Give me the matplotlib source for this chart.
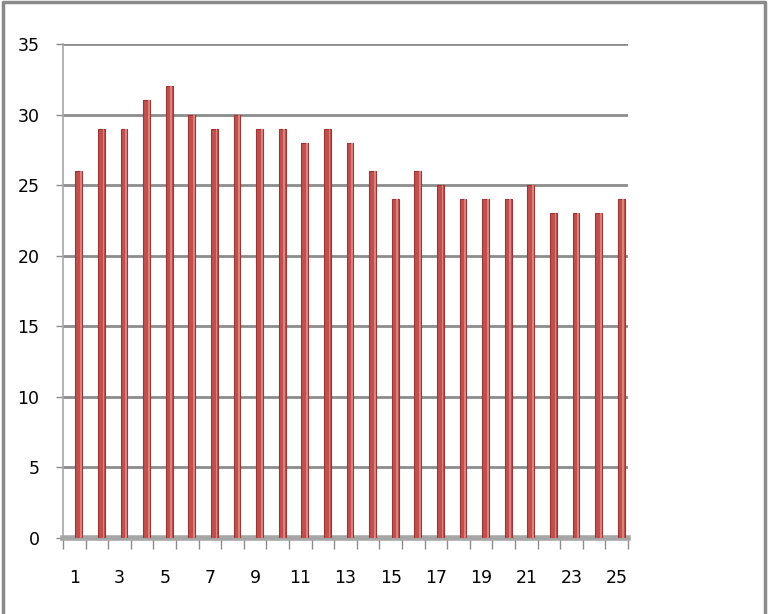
import numpy as np
import matplotlib
matplotlib.use("Agg")
import matplotlib.pyplot as plt
from matplotlib.lines import Line2D

# values
categories = list(range(1, 26))
values = [26, 29, 29, 31, 32, 30, 29, 30, 29, 29, 28, 29, 28,
          26, 24, 26, 25, 24, 24, 24, 25, 23, 23, 23, 24]
y_ticks = [0, 5, 10, 15, 20, 25, 30, 35]
x_labels = [str(c) for c in categories if c % 2 == 1]

GRID = "#8c8c8c"

plt.rcParams["font.family"] = ["DejaVu Sans"]

fig = plt.figure(figsize=(7.68, 6.14), dpi=100)
ax = fig.add_axes([63 / 768, 76 / 614, (628 - 63) / 768, (538 - 44) / 614])

x = np.array(categories, dtype=float)
# bars sit slightly right of the category centre (Excel 3D look)
ax.bar(x + 0.2, values, width=0.3, color="#c0504d",
       edgecolor="#9e3532", linewidth=0.8, zorder=3)
# lighter strip on the right side of each bar
ax.bar(x + 0.2 + 0.09, values, width=0.08, color="#d98280",
       linewidth=0, zorder=4)

ax.set_xlim(0.5, 25.5)
ax.set_ylim(0, 35)
ax.set_yticks(y_ticks)
ax.yaxis.grid(True, color=GRID, linewidth=2)
ax.set_axisbelow(True)

odd = [c for c in categories if c % 2 == 1]
ax.set_xticks(odd)
ax.set_xticklabels(x_labels)
ax.set_xticks(np.arange(0.5, 26, 1), minor=True)
ax.tick_params(axis="x", which="major", length=0, pad=22, labelsize=12.5)
ax.tick_params(axis="x", which="minor", length=8, color=GRID, width=1)
ax.tick_params(axis="y", length=5, color=GRID, width=1, labelsize=12.5, pad=12)

for s in ["top", "right"]:
    ax.spines[s].set_visible(False)
ax.spines["left"].set_color("#a6a6a6")
ax.spines["left"].set_linewidth(1.2)
ax.spines["bottom"].set_color("#a6a6a6")
ax.spines["bottom"].set_linewidth(4)

# outer chart border (left, top, right only)
W, H = 768, 614
bx = [2.5 / W, 2.5 / W, 764.5 / W, 764.5 / W]
by = [0.0, 1 - 2 / H, 1 - 2 / H, 0.0]
fig.lines.append(Line2D(bx, by, transform=fig.transFigure,
                        color="#8a8a8a", linewidth=2.5))

fig.savefig("out.png", dpi=100)
